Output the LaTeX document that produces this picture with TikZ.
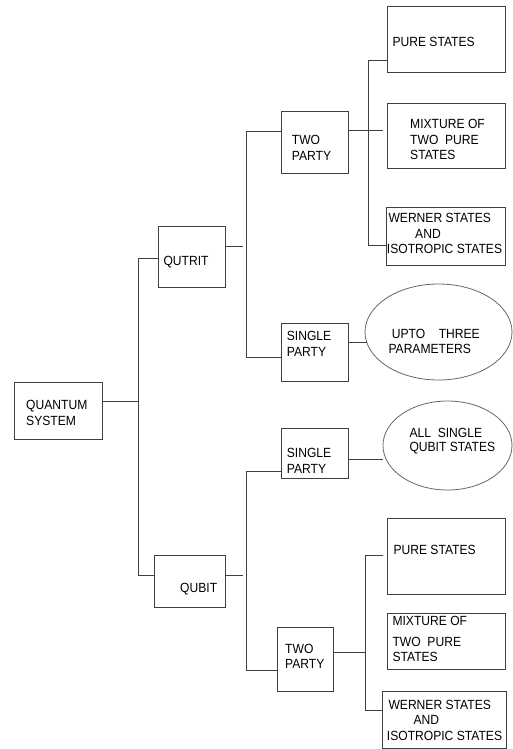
\documentclass[tikz,border=0pt]{standalone}
\usepackage{fontspec}
\setmainfont[FakeStretch=0.91]{Liberation Sans}
\usetikzlibrary{shapes.geometric}
\tikzset{
  x=1pt, y=-1pt,
  box/.style={draw=black!75, line width=0.8pt, rectangle, inner sep=0pt},
  oval/.style={draw=black!60, line width=0.8pt, ellipse, inner sep=0pt},
  conn/.style={draw=black!75, line width=0.8pt},
  txt/.style={inner sep=0pt, anchor=base west, align=left, text=black,
    font=\fontsize{13.3}{15.3}\selectfont}
}
\begin{document}
\begin{tikzpicture}
\useasboundingbox (0,0) rectangle (512,749);
% boxes
\node[box, minimum width=88, minimum height=57] (qs) at (58,410.5) {};
\node[box, minimum width=67, minimum height=61] (qutrit) at (191.5,256.5) {};
\node[box, minimum width=71, minimum height=52] (qubit) at (189.5,581) {};
\node[box, minimum width=67, minimum height=62] (tp1) at (314.5,142) {};
\node[box, minimum width=67, minimum height=58] (sp1) at (314.5,352) {};
\node[box, minimum width=67, minimum height=50] (sp2) at (314.5,453) {};
\node[box, minimum width=56, minimum height=64] (tp2) at (305,659) {};
\node[box, minimum width=118, minimum height=66] (ps1) at (446,39) {};
\node[box, minimum width=118, minimum height=65] (mx1) at (446,135.5) {};
\node[box, minimum width=119, minimum height=58] (wi1) at (445.5,236) {};
\node[box, minimum width=118, minimum height=76] (ps2) at (446,556) {};
\node[box, minimum width=118, minimum height=56] (mx2) at (446,641) {};
\node[box, minimum width=124, minimum height=57] (wi2) at (444,719.5) {};
\node[oval, minimum width=147, minimum height=96] (el1) at (438.5,332) {};
\node[oval, minimum width=129, minimum height=89] (el2) at (447.5,445.5) {};
% texts (anchor = baseline of the last line)
\node[txt] (tqs) at (26,425) {QUANTUM\\SYSTEM};
\node[txt] (tqutrit) at (163.3,265) {QUTRIT};
\node[txt] (ttp1) at (291.7,160) {TWO\\PARTY};
\node[txt] (tps1) at (392.3,47) {PURE STATES};
\node[txt] (tmx1) at (410,159.3) {MIXTURE OF\\TWO\ \ PURE\\STATES};
\node[txt] (twi1) at (388.3,253.3) {WERNER STATES\\\hspace*{26.7pt}AND\\\hspace*{-1.6pt}ISOTROPIC STATES};
\node[txt] (tsp1) at (286.7,356) {SINGLE\\PARTY};
\node[txt] (tel1) at (391.7,353.3) {UPTO\ \ \ \ THREE\\\hspace*{-3.4pt}PARAMETERS};
\node[txt] (tel2) at (409.3,451.7) {ALL\ \ SINGLE\\[-1.5pt]QUBIT STATES};
\node[txt] (tsp2) at (286.7,473) {SINGLE\\PARTY};
\node[txt] (tqubit) at (180,592) {QUBIT};
\node[txt] (tps2) at (393.3,554.5) {PURE STATES};
\node[txt] (tmx2) at (392.3,661.7) {MIXTURE OF\\[6pt]TWO\ \ PURE\\STATES};
\node[txt] (twi2) at (388.3,740) {WERNER STATES\\\hspace*{25pt}AND\\\hspace*{-1.6pt}ISOTROPIC STATES};
\node[txt] (ttp2) at (285,668.3) {TWO\\PARTY};
% junction coordinates
\coordinate (j0) at (138,401);
\coordinate (j0t) at (138,258);
\coordinate (j0b) at (138,575);
\coordinate (q1s) at (243,246);
\coordinate (j1t) at (246.5,131);
\coordinate (j1b) at (246.5,357);
\coordinate (t1s) at (383.3,130);
\coordinate (j2t) at (368.3,60);
\coordinate (j2b) at (368.3,245);
\coordinate (c1) at (366.5,342.7);
\coordinate (q2s) at (243,575);
\coordinate (j3t) at (246.3,471.5);
\coordinate (j3b) at (246.3,670);
\coordinate (c2) at (383,459);
\coordinate (j4m) at (365,652.3);
\coordinate (j4t) at (365,555);
\coordinate (j4b) at (365,710);
\coordinate (p2s) at (383.3,555);
% connectors
\draw[conn] (qs.east |- j0) -- (j0);
\draw[conn] (qutrit.west |- j0t) -- (j0t) -- (j0b) -- (qubit.west |- j0b);
\draw[conn] (qutrit.east |- q1s) -- (q1s);
\draw[conn] (tp1.west |- j1t) -- (j1t) -- (j1b) -- (sp1.west |- j1b);
\draw[conn] (tp1.east |- t1s) -- (t1s);
\draw[conn] (ps1.west |- j2t) -- (j2t) -- (j2b) -- (wi1.west |- j2b);
\draw[conn] (sp1.east |- c1) -- (c1);
\draw[conn] (qubit.east |- q2s) -- (q2s);
\draw[conn] (sp2.west |- j3t) -- (j3t) -- (j3b) -- (tp2.west |- j3b);
\draw[conn] (sp2.east |- c2) -- (c2);
\draw[conn] (tp2.east |- j4m) -- (j4m);
\draw[conn] (p2s) -- (j4t) -- (j4b) -- (wi2.west |- j4b);
\end{tikzpicture}
\end{document}
